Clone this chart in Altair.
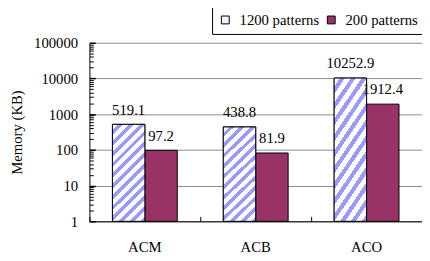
import altair as alt
import pandas as pd

categories = ["ACM", "ACB", "ACO"]
series = ["1200 patterns", "200 patterns"]
values_1200 = [519.1, 438.8, 10252.9]
values_200 = [97.2, 81.9, 1912.4]
labels_1200 = ["519.1", "438.8", "10252.9"]
labels_200 = ["97.2", "81.9", "1912.4"]

rows = []
for c, v, l in zip(categories, values_1200, labels_1200):
    rows.append({"cat": c, "series": series[0], "value": v, "label": l})
for c, v, l in zip(categories, values_200, labels_200):
    rows.append({"cat": c, "series": series[1], "value": v, "label": l})
df = pd.DataFrame(rows)

FONT = "Liberation Serif"
PURPLE = "#993366"
STRIPE = "#9999ff"
major = [1, 10, 100, 1000, 10000, 100000]
minor = [k * 10 ** d for d in range(5) for k in range(2, 10)]

# diagonal hatch as a repeating linear gradient
N = 12
stops = []
for i in range(N):
    stops += [
        {"offset": i / N, "color": "#ffffff"},
        {"offset": (i + 0.55) / N, "color": "#ffffff"},
        {"offset": (i + 0.55) / N, "color": STRIPE},
        {"offset": (i + 1) / N, "color": STRIPE},
    ]
hatch_fill = {"gradient": "linear", "x1": 0, "y1": 0, "x2": 0.4, "y2": 1.2, "stops": stops}

xscale = alt.Scale(domain=categories, paddingInner=0, paddingOuter=0)
xoff = alt.XOffset("series:N", sort=series,
                   scale=alt.Scale(domain=series, paddingInner=0, paddingOuter=0.71))
yscale = alt.Scale(type="log", domain=[1, 100000])

base = alt.Chart(df)

bars = base.mark_bar(stroke="black", strokeWidth=1).encode(
    x=alt.X("cat:N", sort=categories, scale=xscale,
            axis=alt.Axis(title=None, ticks=False, tickSize=0, labelAngle=0,
                          labelFont=FONT, labelFontSize=15, labelColor="black",
                          labelPadding=19, domainColor="black", grid=False)),
    xOffset=xoff,
    y=alt.Y("value:Q", scale=yscale,
            axis=alt.Axis(title="Memory (KB)", values=major, format="d",
                          ticks=False, tickSize=0, labelPadding=12,
                          labelFont=FONT, labelFontSize=15, labelColor="black",
                          titleFont=FONT, titleFontSize=15, titleFontWeight="normal",
                          titleColor="black", titlePadding=9,
                          grid=True, gridColor="#8c8c8c", domainColor="black",
                          orient="left")),
    y2=alt.datum(1),
    fill=alt.Fill("series:N", sort=series,
                  scale=alt.Scale(domain=series, range=["#f2f2ff", PURPLE]),
                  legend=alt.Legend(title=None, orient="none", legendX=125, legendY=-37,
                                    direction="horizontal", strokeColor="black",
                                    fillColor="white", padding=6, symbolType="square",
                                    symbolSize=64, symbolStrokeColor="black",
                                    symbolStrokeWidth=1, labelFont=FONT,
                                    labelFontSize=15, labelColor="black",
                                    labelOffset=7, columnPadding=4)),
)

hatch = base.transform_filter(alt.datum.series == series[0]).mark_bar(
    stroke="black", strokeWidth=1, fill=hatch_fill
).encode(
    x=alt.X("cat:N", sort=categories, scale=xscale,
            axis=alt.Axis(title=None, labels=False, domain=False, ticks=True,
                          tickSize=5, offset=-5, tickBand="extent", grid=False,
                          tickColor="black", orient="bottom")),
    xOffset=xoff,
    y=alt.Y("value:Q", scale=yscale,
            axis=alt.Axis(title=None, values=major, labels=False, domain=False,
                          grid=False, ticks=True, tickSize=6, offset=-6,
                          tickWidth=1.5, tickColor="black", orient="left")),
    y2=alt.datum(1),
)

text = base.mark_text(baseline="alphabetic", dy=-10, font=FONT, fontSize=15,
                      color="black").encode(
    x=alt.X("cat:N", sort=categories, scale=xscale, axis=None),
    xOffset=xoff,
    y=alt.Y("value:Q", scale=yscale,
            axis=alt.Axis(title=None, values=minor, labels=False, domain=False,
                          grid=False, ticks=True, tickSize=4, offset=-4,
                          tickColor="black", orient="left")),
    text="label:N",
)

chart = alt.layer(bars, hatch, text).resolve_axis(
    x="independent", y="independent"
).properties(
    width=339, height=182,
    padding={"left": 83, "top": 33, "right": 0, "bottom": 37},
    autosize=alt.AutoSizeParams(type="none"),
    background="white",
).configure_view(stroke=None)

chart.save("out.html", embed_options={"renderer": "svg", "actions": False})
